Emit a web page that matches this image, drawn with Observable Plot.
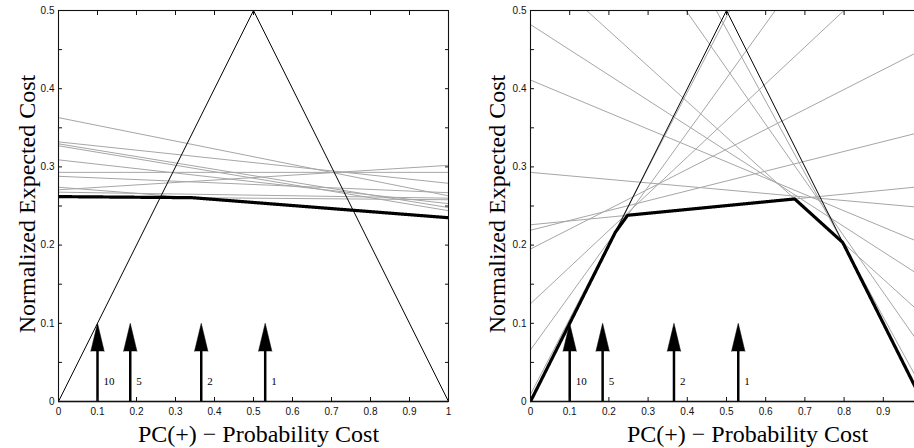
<!DOCTYPE html>
<html><head><meta charset="utf-8">
<script src="https://cdn.jsdelivr.net/npm/d3@7"></script>
<script src="https://cdn.jsdelivr.net/npm/@observablehq/plot@0.6"></script>
<style>
html,body{margin:0;padding:0;background:#fff;overflow:hidden;}
#wrap{position:relative;width:914px;height:448px;overflow:hidden;background:#fff;}
#wrap svg{position:absolute;top:0;max-width:none !important;}
</style></head><body><div id="wrap"></div>
<script>
// ---- data ----
const xTicks = [0, 0.1, 0.2, 0.3, 0.4, 0.5, 0.6, 0.7, 0.8, 0.9, 1];
const xTickLabelsLeft = [0, 0.1, 0.2, 0.3, 0.4, 0.5, 0.6, 0.7, 0.8, 0.9, 1];
const xTickLabelsRight = [0, 0.1, 0.2, 0.3, 0.4, 0.5, 0.6, 0.7, 0.8, 0.9];
const yTicks = [0, 0.1, 0.2, 0.3, 0.4, 0.5];
const yMinorTicks = [0, 0.05, 0.1, 0.15, 0.2, 0.25, 0.3, 0.35, 0.4, 0.45, 0.5];
const xLabel = "PC(+) \u2212 Probability Cost";
const yLabel = "Normalized Expected Cost";
const triangleX = [0, 0.5, 1];
const triangleY = [0, 0.5, 0];
const arrowX = [0.1, 0.184, 0.366, 0.53];
const arrowLabels = ["10", "5", "2", "1"];
const arrowTip = 0.1;
// left panel: cost lines, value at PC(+)=0 and at PC(+)=1
const leftStart = [0.363, 0.332, 0.3295, 0.327, 0.309, 0.293, 0.288, 0.274, 0.2707, 0.2677, 0.262];
const leftEnd   = [0.263, 0.279, 0.248, 0.244, 0.253, 0.293, 0.267, 0.235, 0.302, 0.260, 0.258];
// right panel
const rightStart = [0.482, 0.411, 0.293, 0.226, 0.219, 0.195, 0.125, 0.066, 0.009, 0.565, 0.784, 0.936];
const rightEnd   = [0.159, 0.202, 0.248, 0.275, 0.345, 0.450, 0.594, 0.761, 0.975, 0.111, 0.068, 0.016];

const serif = "'Liberation Serif','Times New Roman',Times,serif";
const sans = "'Liberation Sans',Arial,Helvetica,sans-serif";
const grid = d3.range(0, 1001).map(i => i / 1000);

// lower envelope of the cost lines (optionally with the trivial classifiers = triangle sides)
const triangleAt = x => d3.min(d3.range(triangleX.length - 1), i => {
  const x0 = triangleX[i], x1 = triangleX[i + 1], y0 = triangleY[i], y1 = triangleY[i + 1];
  return y0 + (y1 - y0) * (x - x0) / (x1 - x0);
});
function envelope(a, b, withTrivial) {
  return grid.map(x => {
    let m = d3.min(a, (v, i) => v + (b[i] - v) * x);
    if (withTrivial) m = Math.min(m, triangleAt(x));
    return {x, y: m};
  });
}

function panel({starts, ends, trivial, width, marginLeft, marginRight, xDx, yDx, xLabels}) {
  const lines = starts.map((a, i) => ({a, b: ends[i]}));
  const tri = triangleX.map((x, i) => ({x, y: triangleY[i]}));
  const arrows = arrowX.map((x, i) => ({x, label: arrowLabels[i]}));
  return Plot.plot({
    width, height: 448,
    marginLeft, marginRight, marginTop: 10, marginBottom: 47,
    style: {fontFamily: sans, fontSize: "10px", background: "white", color: "#111"},
    x: {domain: [0, 1]},
    y: {domain: [0, 0.5]},
    marks: [
      Plot.link(lines, {x1: () => 0, y1: d => d.a, x2: () => 1, y2: d => d.b, stroke: "#a6a6a6", strokeWidth: 1, clip: true}),
      Plot.line(tri, {x: "x", y: "y", stroke: "#000", strokeWidth: 1, clip: true}),
      Plot.line(envelope(starts, ends, trivial), {x: "x", y: "y", stroke: "#000", strokeWidth: 3.2, clip: true}),
      Plot.ruleX(arrows, {x: "x", y1: () => 0, y2: () => arrowTip - 0.02, stroke: "#000", strokeWidth: 2.5}),
      Plot.vector(arrows, {x: "x", y: () => arrowTip, shape: "spike", anchor: "end", length: 28, r: 6.7, rotate: 0, fill: "#000", stroke: "#000", strokeWidth: 0.5}),
      Plot.text(arrows, {x: "x", y: () => 0, text: "label", dx: 6, dy: -20, textAnchor: "start", fontFamily: serif, fontSize: 11, fill: "#000"}),
      Plot.frame({stroke: "#111", strokeWidth: 1.1}),
      Plot.ruleY([0], {stroke: "#111", strokeWidth: 1.6}),
      Plot.axisX(xTicks, {anchor: "bottom", tickSize: -4, tickFormat: () => "", label: null, stroke: "#111"}),
      Plot.axisX(xTicks, {anchor: "top", tickSize: -4, tickFormat: () => "", label: null, stroke: "#111"}),
      Plot.axisY(yMinorTicks, {anchor: "left", tickSize: -4, tickFormat: () => "", label: null, stroke: "#111"}),
      Plot.axisY(yMinorTicks, {anchor: "right", tickSize: -4, tickFormat: () => "", label: null, stroke: "#111"}),
      Plot.axisX(xLabels, {anchor: "bottom", tickSize: 0, tickPadding: 6, tickFormat: d => String(d), label: null, fontSize: 10, fill: "#111"}),
      Plot.axisY(yTicks, {anchor: "left", tickSize: 0, tickPadding: 4, tickFormat: d => String(d), label: null, fontSize: 10, fill: "#111"}),
      Plot.text([xLabel], {frameAnchor: "bottom", text: d => d, dx: xDx, dy: 40, lineAnchor: "bottom", textAnchor: "middle", fontFamily: serif, fontSize: 24, fill: "#000"}),
      Plot.text([yLabel], {frameAnchor: "left", text: d => d, rotate: -90, dx: yDx, dy: -2, lineAnchor: "middle", textAnchor: "middle", fontFamily: serif, fontSize: 24, fill: "#000"})
    ]
  });
}

const wrap = document.getElementById("wrap");
const left = panel({starts: leftStart, ends: leftEnd, trivial: false, width: 460, marginLeft: 58, marginRight: 12, xDx: 5, yDx: -31, xLabels: xTickLabelsLeft});
left.style.left = "0px";
wrap.appendChild(left);
const right = panel({starts: rightStart, ends: rightEnd, trivial: true, width: 480, marginLeft: 70, marginRight: 18, xDx: 21, yDx: -33, xLabels: xTickLabelsRight});
right.style.left = "460px";
wrap.appendChild(right);
</script>
</body></html>
